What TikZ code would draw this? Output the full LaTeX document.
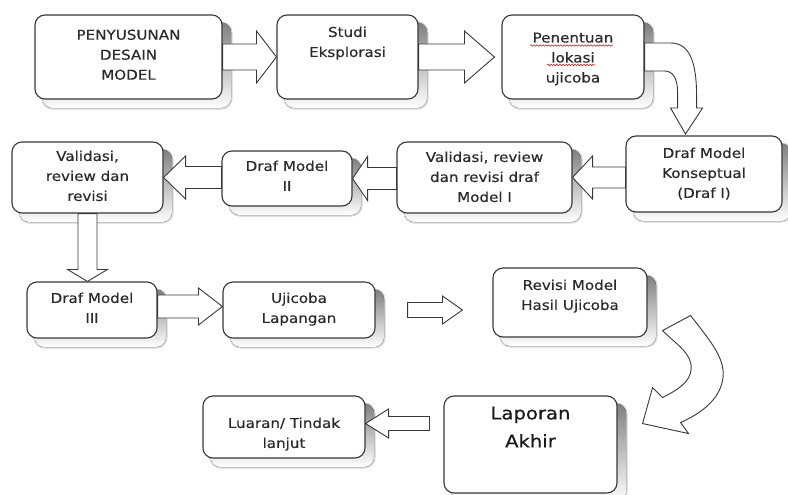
\documentclass[tikz,border=0pt]{standalone}
\usepackage{fontspec}
\setmainfont{DejaVu Sans}[FakeStretch=1.12, FakeBold=0.4]
\usetikzlibrary{calc,decorations.pathmorphing}
\pgfdeclarelayer{bg}
\pgfsetlayers{bg,main}
\definecolor{edge}{HTML}{383838}
\definecolor{ink}{HTML}{2A2A2A}
\definecolor{shade}{HTML}{BDBDBD}
\definecolor{shadelt}{HTML}{D6D6D6}
\tikzset{
  box/.style={draw=edge, line width=1.1pt, fill=white, rounded corners=10pt, inner sep=0pt},
  txt/.style={text=ink, align=center, inner sep=0pt, font=\fontsize{13.5}{20}\selectfont, anchor=north},
  bigtxt/.style={txt, text=black!90, font=\fontsize{17.5}{28}\selectfont},
  barrow/.style={draw=edge, line width=0.9pt, fill=white, line join=miter},
  squiggle/.style={draw=red, line width=0.5pt, decorate, decoration={snake, amplitude=0.8pt, segment length=3pt}},
}
% soft shadow of a box node
\newcommand\shadowof[1]{%
  \fill[shadelt, rounded corners=11pt] ($(#1.north west)+(7,7)$) rectangle ($(#1.south east)+(10,10)$);
  \fill[shade, rounded corners=10pt] ($(#1.north west)+(8,8)$) rectangle ($(#1.south east)+(8.5,8.5)$);}
% horizontal block arrow: tail point, tip point, shaft half, head half, signed head length
\newcommand\hblk[5]{\draw[barrow] let \p1=(#1), \p2=(#2) in
  ({\x1},{\y2+#3pt}) -- ({\x2-(#5pt)},{\y2+#3pt}) -- ({\x2-(#5pt)},{\y2+#4pt}) -- (\x2,\y2)
  -- ({\x2-(#5pt)},{\y2-#4pt}) -- ({\x2-(#5pt)},{\y2-#3pt}) -- ({\x1},{\y2-#3pt}) -- cycle;}
% vertical block arrow
\newcommand\vblk[5]{\draw[barrow] let \p1=(#1), \p2=(#2) in
  ({\x2+#3pt},{\y1}) -- ({\x2+#3pt},{\y2-(#5pt)}) -- ({\x2+#4pt},{\y2-(#5pt)}) -- (\x2,\y2)
  -- ({\x2-#4pt},{\y2-(#5pt)}) -- ({\x2-#3pt},{\y2-(#5pt)}) -- ({\x2-#3pt},{\y1}) -- cycle;}
\begin{document}
\begin{tikzpicture}[x=1pt,y=-1pt]
\useasboundingbox (0,0) rectangle (788,495);
% boxes
\node[box, minimum width=187pt, minimum height=84pt] (b1) at (128.5,57) {};
\node[box, minimum width=141pt, minimum height=84pt] (b2) at (347.5,57) {};
\node[box, minimum width=142pt, minimum height=84pt] (b3) at (573,57) {};
\node[box, minimum width=156pt, minimum height=76pt] (b4) at (704,174) {};
\node[box, minimum width=175pt, minimum height=71pt] (b5) at (484.5,177.5) {};
\node[box, minimum width=130pt, minimum height=55pt] (b6) at (287,178.5) {};
\node[box, minimum width=151pt, minimum height=71pt] (b7) at (87.5,177.5) {};
\node[box, minimum width=130pt, minimum height=56pt] (b8) at (92,310) {};
\node[box, minimum width=152pt, minimum height=56pt] (b9) at (299,310) {};
\node[box, minimum width=154pt, minimum height=69pt] (b10) at (570,302.5) {};
\node[box, minimum width=173pt, minimum height=97pt] (b11) at (530.5,444.5) {};
\node[box, minimum width=162pt, minimum height=62pt] (b12) at (284,427) {};
\begin{pgfonlayer}{bg}
\foreach \b in {b1,b2,b3,b4,b5,b6,b7,b8,b9,b10,b11,b12} {\shadowof{\b}}
\end{pgfonlayer}
% texts
\node[txt] (t1) at ($(b1.north)+(0,15)$) {PENYUSUNAN\\DESAIN\\MODEL};
\node[txt] (t2) at ($(b2.north)+(0,12)$) {Studi\\Eksplorasi};
\node[txt] (t3) at ($(b3.north)+(0,18)$) {Penentuan\\lokasi\\ujicoba};
\node[txt] (t4) at ($(b4.north)+(0,12)$) {Draf Model\\Konseptual\\(Draf I)};
\node[txt] (t5) at ($(b5.north)+(0,10)$) {Validasi, review\\dan revisi draf\\Model I};
\node[txt] (t6) at ($(b6.north)+(0,10)$) {Draf Model\\II};
\node[txt] (t7) at ($(b7.north)+(0,9)$) {Validasi,\\review dan\\revisi};
\node[txt] (t8) at ($(b8.north)+(0,11)$) {Draf Model\\III};
\node[txt] (t9) at ($(b9.north)+(0,11)$) {Ujicoba\\Lapangan};
\node[txt] (t10) at ($(b10.north)+(0,12)$) {Revisi Model\\Hasil Ujicoba};
\node[bigtxt] (t11) at ($(b11.north)+(0,11)$) {Laporan\\Akhir};
\node[txt] (t12) at ($(b12.north)+(0,22)$) {Luaran/ Tindak\\lanjut};
% spell-check underlines
\draw[squiggle] ($(b3.center)+(-43,-11.5)$) -- ($(b3.center)+(40,-11.5)$);
\draw[squiggle] ($(b3.center)+(-26,8)$) -- ($(b3.center)+(22,8)$);
% straight block arrows
\hblk{b1.east}{b2.west}{13}{26}{20}
\hblk{b2.east}{$(b3.west)+(-7,0)$}{13}{26}{30}
\hblk{b4.west}{b5.east}{10.5}{21.5}{-20}
\hblk{b5.west}{b6.east}{11}{22}{-15}
\hblk{b6.west}{b7.east}{11}{21.5}{-22}
\vblk{b7.south}{b7.south|-b8.north}{9.5}{20}{-12}
\hblk{b8.east}{$(b9.west)+(0,-3.5)$}{11.5}{18.5}{24}
\hblk{$(b9.east)+(32,0)$}{$(b10.west|-b9.east)+(-30,0)$}{7.5}{14}{20}
\hblk{$(b11.west)+(-14,0)$}{$(b12.east)+(0,-3.5)$}{7}{14.5}{-23}
% curved block arrow b3 -> b4
\begin{scope}[shift={(b3.east)}]
\draw[barrow] (0,-14) -- (26,-14) .. controls (44,-14) and (52,3) .. (52,38) -- (52,51)
  -- (58,51) -- (41,77) -- (26,51) -- (33,51) -- (33,35)
  .. controls (33,21) and (28,14) .. (20,14) -- (0,14) -- cycle;
\end{scope}
% curved block arrow b10 -> b11
\begin{scope}[shift={(b10.south east)}]
\draw[barrow] (15,-7) -- (43,-22) .. controls (65,6) and (79,23) .. (75,43)
  .. controls (71,63) and (53,76) .. (33,85) -- (41,96) -- (-5,86) -- (5,50) -- (15,60)
  .. controls (33,51) and (47,41) .. (43,25) .. controls (40,13) and (28,6) .. (15,-7) -- cycle;
\end{scope}
\end{tikzpicture}
\end{document}
